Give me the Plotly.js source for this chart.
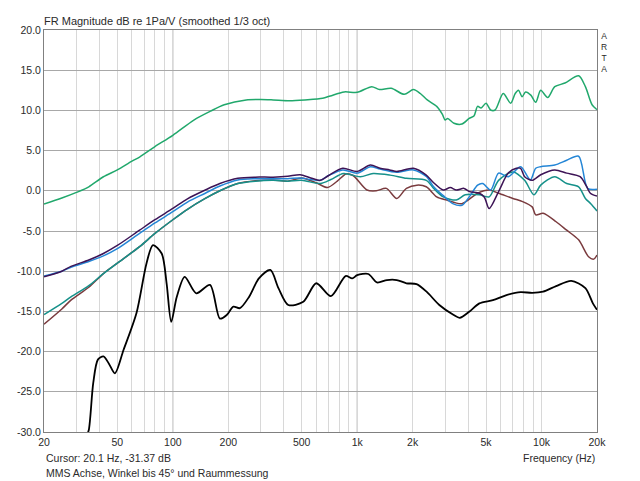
<!DOCTYPE html>
<html>
<head>
<meta charset="utf-8">
<script src="https://cdn.plot.ly/plotly-3.0.1.min.js"></script>
<style>html,body{margin:0;padding:0;background:#fff;}#chart{width:640px;height:481px;}</style>
</head>
<body>
<div id="chart"></div>
<script>
// ---- data ----
const greenF  = [20,25,30,35,42,50,60,66,80,100,130,160,190,250,300,350,430,520,650,715,850,1000,1200,1320,1530,1800,2020,2200,2400,2700,2900,3000,3100,3350,3700,4050,4300,4500,4700,5000,5300,5600,6200,6800,7200,7500,7850,8200,8750,9300,9900,10800,11800,13400,15900,17300,18800,20000];
const greenDb = [-1.65,-0.9,-0.2,0.5,1.75,2.6,3.7,4.2,5.5,6.9,8.8,9.9,10.7,11.3,11.35,11.3,11.2,11.3,11.5,11.8,12.3,12.25,12.95,12.6,12.75,12.0,12.6,12.1,11.3,10.5,9.5,8.8,9.0,8.4,8.3,9.0,9.3,10.5,10.3,10.9,10.05,10.05,12.1,10.9,12.1,12.5,11.7,12.3,11.9,11.0,12.5,11.6,12.95,13.4,14.3,12.95,10.7,10.1];

const purpleF  = [20,25,28,35,42,50,66,80,100,120,150,180,225,280,350,420,490,560,632,700,835,1000,1180,1330,1500,1640,2020,2370,2600,2930,3200,3450,3800,4070,4600,4900,5200,5850,6600,7300,7700,8100,8900,9900,11800,13700,16200,17500,18400,20000];
const purpleDb = [-10.7,-10.0,-9.4,-8.6,-7.8,-6.8,-4.9,-3.6,-2.2,-1.0,0.1,0.9,1.55,1.7,1.7,1.8,2.0,1.6,1.3,1.9,2.8,2.4,3.2,2.8,2.6,2.4,2.8,1.95,1.0,0.1,0.4,0.1,0.3,-0.1,-0.3,-0.8,-2.2,-0.1,2.2,2.8,2.8,1.75,1.3,2.0,2.6,2.2,1.75,0.6,-0.3,-0.65];

const blueF  = [20,25,28,35,42,50,66,80,100,120,150,180,225,280,350,420,490,560,632,700,835,1000,1180,1330,1640,2020,2370,2600,2930,3300,3700,4100,4500,4800,5300,5850,6600,7700,8700,9300,9900,11800,13700,15900,17800,20000];
const blueDb = [-10.6,-10.0,-9.5,-8.8,-8.1,-7.2,-5.3,-4.0,-2.6,-1.4,-0.3,0.6,1.35,1.5,1.5,1.5,1.6,1.4,1.3,1.9,2.6,2.2,3.0,2.7,2.3,2.6,1.8,0.5,-0.6,-1.6,-1.8,-0.6,0.7,0.9,0.1,2.2,1.75,3.0,1.35,2.8,3.0,3.2,3.8,4.3,0.3,0.2];

const tealF  = [20,25,28,35,42,50,66,80,100,120,150,180,225,280,350,420,500,632,720,843,1040,1220,1510,1850,2370,2600,2930,3450,3860,4600,5200,5850,7000,8100,9100,9900,11800,13700,15900,17300,18500,20000];
const tealDb = [-15.4,-14.0,-13.2,-11.8,-10.3,-9.0,-6.95,-5.3,-3.6,-2.3,-0.95,0.0,0.9,1.2,1.3,1.2,1.3,0.9,1.4,2.15,1.75,2.15,1.95,1.55,1.3,0.3,-0.75,-1.15,-0.5,-0.5,-0.75,1.3,2.35,1.3,-0.5,0.7,1.75,0.9,0.5,-0.95,-1.6,-2.5];

const brownF  = [20,25,28,35,42,50,66,80,100,120,150,180,225,280,350,420,500,600,690,780,870,950,1130,1270,1440,1640,1850,2110,2370,2700,3060,3700,4500,5200,5850,7000,7900,8900,9300,10200,12000,13700,15900,18000,19200,20000];
const brownDb = [-16.6,-14.7,-13.6,-12.0,-10.3,-9.0,-6.95,-5.3,-3.6,-2.3,-0.95,0.0,0.9,1.25,1.35,1.2,1.6,1.0,0.4,1.2,2.1,1.9,0.1,0.0,0.3,-0.95,0.3,0.7,0.5,-0.75,-1.15,-1.6,-0.3,0.1,-0.3,-0.95,-1.35,-2.0,-3.0,-2.8,-3.85,-4.9,-6.1,-8.2,-8.5,-8.0];

const blackF  = [34,35,37,39.2,42,45,48.5,54,63.5,72,78,87,92.5,98,105,116,134,159,180,196,213,231,259,293,338,374,423,510,600,720,865,940,1000,1150,1280,1450,1640,1850,2100,2380,2790,3340,3600,4070,4600,5450,6400,7700,8900,10200,12000,14500,17300,19000,20000];
const blackDb = [-30.5,-29.75,-23.9,-21.0,-20.6,-21.5,-22.7,-19.8,-15.2,-9.0,-6.75,-7.8,-11.5,-16.3,-13.2,-10.7,-12.75,-11.7,-15.9,-15.45,-14.4,-14.6,-13.2,-10.9,-9.85,-12.1,-14.2,-13.8,-11.5,-13.1,-10.6,-10.9,-10.5,-10.35,-11.4,-11.1,-11.1,-11.5,-11.6,-12.55,-14.2,-15.45,-15.8,-15.0,-14.0,-13.6,-13.0,-12.6,-12.7,-12.55,-11.85,-11.2,-12.1,-14.0,-14.8];

const xTickVals = [20,50,100,200,500,1000,2000,5000,10000,20000];
const xTickText = ['20','50','100','200','500','1k','2k','5k','10k','20k'];
const yTickVals = [20,15,10,5,0,-5,-10,-15,-20,-25,-30];
const yTickText = ['20.0','15.0','10.0','5.0','0.0','-5.0','-10.0','-15.0','-20.0','-25.0','-30.0'];
const minorGridVals = [30,40,60,70,80,90,300,400,600,700,800,900,3000,4000,6000,7000,8000,9000];
const decadeLines = [100,1000,10000];

const titleText = 'FR Magnitude dB re 1Pa/V (smoothed 1/3 oct)';
const cursorText = 'Cursor: 20.1 Hz, -31.37 dB';
const noteText = 'MMS Achse, Winkel bis 45° und Raummessung';
const xTitleText = 'Frequency (Hz)';

// ---- chart ----
const FONT = 'Liberation Sans, Arial, sans-serif';
const TXT = '#2a2a2a';
function tr(x, y, color, w) {
  return {x: x, y: y, type: 'scatter', mode: 'lines',
          line: {color: color, width: w, shape: 'spline', smoothing: 0.8}, hoverinfo: 'skip'};
}
const traces = [
  tr(greenF, greenDb, '#21a86c', 1.5),
  tr(brownF, brownDb, '#7a3b3e', 1.5),
  tr(tealF, tealDb, '#16918a', 1.5),
  tr(blueF, blueDb, '#2486d6', 1.5),
  tr(purpleF, purpleDb, '#3d1456', 1.5),
  tr(blackF, blackDb, '#000000', 1.8)
];

const shapes = decadeLines.map(v => ({
  type: 'line', xref: 'x', yref: 'paper', x0: v, x1: v, y0: 0, y1: 1,
  line: {color: '#a8a8a8', width: 1}, layer: 'below'
}));

const layout = {
  width: 640, height: 481,
  margin: {l: 44, r: 43, t: 30, b: 49},
  paper_bgcolor: '#ffffff', plot_bgcolor: '#ffffff',
  showlegend: false,
  font: {family: FONT, size: 10.5, color: TXT},
  title: {text: titleText, font: {family: FONT, size: 11, color: TXT},
          xref: 'paper', x: 0, xanchor: 'left', yref: 'container', y: 1 - 21/481, yanchor: 'middle'},
  xaxis: {
    type: 'log', range: [Math.log10(20), Math.log10(20000)],
    tickmode: 'array', tickvals: xTickVals, ticktext: xTickText,
    ticks: '', showgrid: true, gridcolor: '#d8d8d8', gridwidth: 1,
    minor: {tickmode: 'array', tickvals: minorGridVals, showgrid: true, gridcolor: '#d8d8d8', gridwidth: 1, ticks: ''},
    showline: true, mirror: true, linecolor: '#808080', linewidth: 1,
    zeroline: false, tickfont: {family: FONT, size: 10.5, color: TXT}
  },
  yaxis: {
    range: [-30, 20], tickmode: 'array', tickvals: yTickVals, ticktext: yTickText,
    ticks: '', showgrid: true, gridcolor: '#a8a8a8', gridwidth: 1,
    showline: true, mirror: true, linecolor: '#808080', linewidth: 1,
    zeroline: false, tickfont: {family: FONT, size: 10.5, color: TXT}
  },
  shapes: shapes,
  annotations: [
    {text: cursorText, xref: 'paper', yref: 'paper', x: 0, y: 0, xanchor: 'left', yanchor: 'middle',
     yshift: -26, showarrow: false, font: {family: FONT, size: 10.5, color: TXT}},
    {text: noteText, xref: 'paper', yref: 'paper', x: 0, y: 0, xanchor: 'left', yanchor: 'middle',
     yshift: -41, showarrow: false, font: {family: FONT, size: 10.5, color: TXT}},
    {text: xTitleText, xref: 'paper', yref: 'paper', x: 1, y: 0, xanchor: 'right', yanchor: 'middle',
     yshift: -26, showarrow: false, font: {family: FONT, size: 10.5, color: TXT}},
    {text: 'A<br>R<br>T<br>A', xref: 'paper', yref: 'paper', x: 1, y: 1, xanchor: 'left', yanchor: 'top',
     xshift: 2, yshift: 1, showarrow: false, align: 'center', font: {family: FONT, size: 8.5, color: TXT}}
  ]
};

Plotly.newPlot('chart', traces, layout, {staticPlot: true, displayModeBar: false});
</script>
</body>
</html>
